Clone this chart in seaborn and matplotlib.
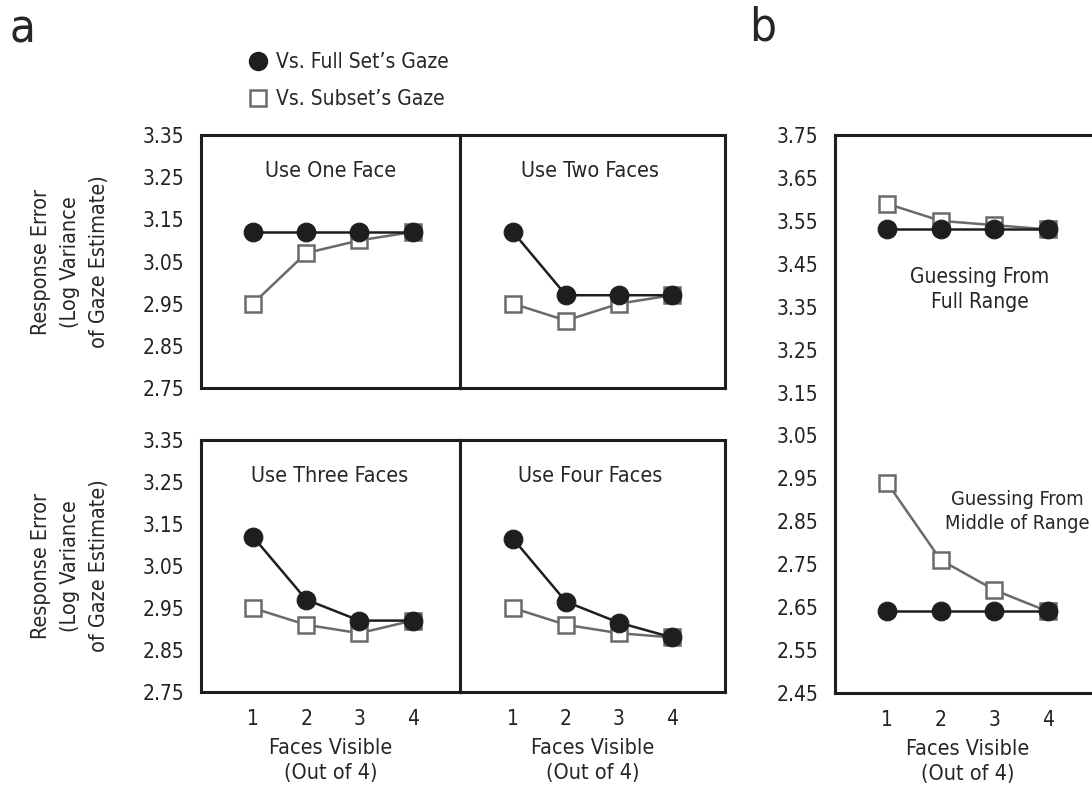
import matplotlib
matplotlib.use('Agg')
import matplotlib.pyplot as plt
from matplotlib.lines import Line2D
import seaborn as sns

# data
faces = [1, 2, 3, 4]

titles_a = ['Use One Face', 'Use Two Faces', 'Use Three Faces', 'Use Four Faces']
full_one = [3.12, 3.12, 3.12, 3.12]
sub_one = [2.95, 3.07, 3.10, 3.12]
full_two = [3.12, 2.97, 2.97, 2.97]
sub_two = [2.95, 2.91, 2.95, 2.97]
full_three = [3.12, 2.97, 2.92, 2.92]
sub_three = [2.95, 2.91, 2.89, 2.92]
full_four = [3.115, 2.965, 2.915, 2.88]
sub_four = [2.95, 2.91, 2.89, 2.88]

full_range_full = [3.53, 3.53, 3.53, 3.53]
full_range_sub = [3.59, 3.55, 3.54, 3.53]
middle_full = [2.64, 2.64, 2.64, 2.64]
middle_sub = [2.94, 2.76, 2.69, 2.64]

yticks_a = [2.75, 2.85, 2.95, 3.05, 3.15, 3.25, 3.35]
yticks_b = [2.45, 2.55, 2.65, 2.75, 2.85, 2.95, 3.05, 3.15, 3.25, 3.35, 3.45, 3.55, 3.65, 3.75]

sns.set_style('white')
plt.rcParams['font.family'] = ['DejaVu Sans']
plt.rcParams['font.stretch'] = 'condensed'
plt.rcParams['font.size'] = 15

DARK = '#1e1e1e'
GREY = '#6a6a6a'

W, H = 1092, 793
fig = plt.figure(figsize=(W / 100, H / 100), dpi=100)


def add_ax(l, t, r, b):
    return fig.add_axes([l / W, 1 - b / H, (r - l) / W, (b - t) / H])


def draw_pair(ax, full, sub):
    sns.lineplot(x=faces, y=sub, ax=ax, color=GREY, linewidth=1.8, marker='s',
                 markersize=11, markerfacecolor='white', markeredgecolor=GREY,
                 markeredgewidth=1.8)
    sns.lineplot(x=faces, y=full, ax=ax, color=DARK, linewidth=1.8, marker='o',
                 markersize=13.5, markerfacecolor=DARK, markeredgecolor=DARK)


def style(ax, xlim, ylim, yticks, show_x, show_y):
    ax.set_xlim(xlim)
    ax.set_ylim(ylim)
    ax.set_xticks(faces)
    ax.set_yticks(yticks)
    ax.set_yticklabels([f'{v:.2f}' for v in yticks])
    ax.tick_params(direction='in', length=9, width=2, colors=DARK, labelcolor='#222')
    ax.tick_params(axis='x', labelbottom=show_x, pad=12)
    ax.tick_params(axis='y', labelleft=show_y, pad=12)
    for s in ax.spines.values():
        s.set_linewidth(2.2)
        s.set_color(DARK)
    ax.set_xlabel('')
    ax.set_ylabel('')


# panel a
boxes = [(201, 135, 460, 388), (460, 135, 725, 388),
         (201, 440, 460, 692), (460, 440, 725, 692)]
xlims = [(0.025, 4.89), (0.0, 5.0), (0.025, 4.89), (0.0, 5.0)]
pairs = [(full_one, sub_one), (full_two, sub_two),
         (full_three, sub_three), (full_four, sub_four)]

for i, (box, xl, (f, s), title) in enumerate(zip(boxes, xlims, pairs, titles_a)):
    ax = add_ax(*box)
    draw_pair(ax, f, s)
    style(ax, xl, (2.75, 3.35), yticks_a, show_x=i >= 2, show_y=i % 2 == 0)
    ax.text(2.45, 3.265, title, ha='center', va='center', fontsize=15.5)
    if i >= 2:
        ax.set_xlabel('Faces Visible\n(Out of 4)', fontsize=15.5, labelpad=7,
                      linespacing=1.3)

ylab = 'Response Error\n(Log Variance\nof Gaze Estimate)'
for yc in (262, 566):
    fig.text(70 / W, 1 - yc / H, ylab, rotation=90, ha='center', va='center',
             ma='center', fontsize=15.5, linespacing=1.55)

# panel b
axb = add_ax(835, 135, 1100, 693)
draw_pair(axb, full_range_full, full_range_sub)
draw_pair(axb, middle_full, middle_sub)
style(axb, (0.03, 4.97), (2.45, 3.75), yticks_b, show_x=True, show_y=True)
axb.set_xlabel('Faces Visible\n(Out of 4)', fontsize=15.5, labelpad=7, linespacing=1.3)
axb.text(2.73, 3.39, 'Guessing From\nFull Range', ha='center', va='center',
         ma='center', fontsize=15, linespacing=1.3)
axb.text(3.42, 2.872, 'Guessing From\nMiddle of Range', ha='center', va='center',
         ma='center', fontsize=14.3, linespacing=1.35)

# legend
handles = [
    Line2D([], [], linestyle='none', marker='o', markersize=13, color=DARK),
    Line2D([], [], linestyle='none', marker='s', markersize=11,
           markerfacecolor='white', markeredgecolor=GREY, markeredgewidth=1.8),
]
fig.legend(handles, ["Vs. Full Set’s Gaze", "Vs. Subset’s Gaze"],
           loc='upper left', bbox_to_anchor=(238 / W, 1 - 42 / H), frameon=False,
           handlelength=0.9, handletextpad=0.4, labelspacing=0.8, borderpad=0,
           fontsize=15)

fig.text(22 / W, 1 - 30 / H, 'a', fontsize=34, ha='center', va='center')
fig.text(763 / W, 1 - 28 / H, 'b', fontsize=34, ha='center', va='center')

fig.savefig('out.png', dpi=100)
